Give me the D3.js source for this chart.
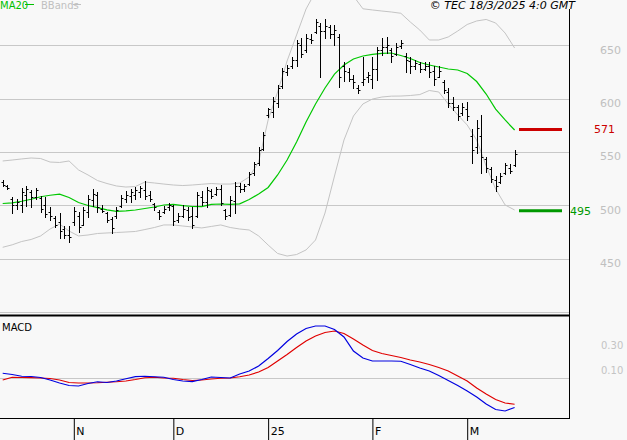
<!DOCTYPE html>
<html><head><meta charset="utf-8">
<script src="https://cdn.jsdelivr.net/npm/d3@7"></script>
<style>
html,body{margin:0;padding:0;background:#f8f8f8;}
svg{display:block;}
text{font-family:"DejaVu Sans",Verdana,sans-serif;}
</style></head>
<body>
<svg id="c" width="627" height="440"></svg>
<script>
// ---- DATA ----
const highs = [524,519,508,506,516,518,514,516,509,508,498,490,493,481,481,498,494,498,510,515,
512,500,494,489,498,510,513,515,517,518,523,513,502,496,499,502,500,493,500,498,
498,512,513,517,515,517,519,497,509,522,521,520,531,541,555,569,591,601,613,629,
631,639,655,657,660,660,674,671,674,669,669,660,634,629,622,613,639,625,639,648,
657,658,647,652,655,643,639,636,634,634,634,630,630,617,610,601,594,596,597,571,
580,585,545,536,527,530,540,539,552];
const lows = [518,515,493,497,494,499,498,506,494,489,486,480,469,469,466,482,475,482,489,499,
494,494,484,474,488,498,503,503,506,508,506,504,496,487,493,496,482,484,489,486,
479,489,500,498,507,510,500,487,490,493,512,513,519,528,538,552,583,583,592,610,
622,629,630,639,644,652,661,620,657,657,650,611,616,616,610,605,613,615,610,617,
641,643,634,641,647,625,624,628,625,627,620,613,620,605,592,589,580,585,580,540,
549,530,531,522,513,521,529,530,537];
const opens = [522,518,506,500,500,510,512,508,507,500,494,488,484,478,472,484,490,482,494,505,
510,497,493,487,490,499,506,509,510,512,514,510,501,494,494,498,499,486,490,496,
490,490,508,503,513,511,515,496,491,504,518,515,520,530,540,553,585,587,596,612,
625,630,636,650,645,656,662,668,663,667,660,658,630,625,618,610,615,620,618,628,
645,648,645,642,649,640,635,630,632,628,630,626,620,615,606,596,592,586,590,565,
555,565,543,534,524,522,530,535,538];
const closes = [519,516,500,503,512,515,508,514,497,492,490,482,476,472,470,495,480,496,506,511,
498,495,486,479,496,507,510,512,514,516,509,506,498,490,497,500,485,490,497,489,
482,510,503,514,509,515,502,490,505,518,515,518,529,539,552,566,590,598,610,626,
629,636,652,642,657,655,672,663,668,660,664,620,626,618,615,608,618,622,628,645,
648,650,640,648,652,636,630,633,628,630,625,618,626,608,596,592,584,592,584,552,
572,545,535,525,518,527,538,532,548];
// indicator samples every 2nd bar (index 0,2,...,108)
const ma20 = [501.7,502.3,503.8,505.7,508.0,509.4,510.4,507.3,502.6,499.8,497.9,495.8,494.4,494.7,495.6,497.0,498.4,500.3,500.8,499.7,
498.9,498.7,500.9,501.2,500.8,501.4,505.4,510.6,516.7,528.4,542.4,559.3,578.0,594.9,609.8,622.9,631.4,637.0,639.8,641.4,
642.3,642.6,640.3,637.5,633.7,631.4,629.5,627.6,626.7,623.4,615.9,604.2,590.0,579.9,570.5];
const bbUpper = [541.5,542.4,543.4,544.3,543.8,540.5,540.1,541.5,533.1,528.4,523.2,520.4,518.1,517.1,517.6,521.8,520.9,519.9,519.0,518.5,
519.0,519.7,520.4,519.9,519.9,520.9,526.5,540.5,579.9,606.1,635.1,659.5,683.8,700.0,710.0,712.0,706.0,696.0,684.0,682.9,
681.9,681.0,679.8,671.6,664.1,654.8,654.8,657.6,663.2,669.3,672.6,674.0,670.7,661.3,647.3];
const bbLower = [460.7,463.0,466.1,468.0,471.3,477.8,482.5,475.9,471.3,472.2,473.6,474.1,474.5,475.0,475.5,477.3,479.2,481.6,481.6,480.6,
479.7,478.8,480.2,481.6,479.2,477.8,476.9,471.3,462.8,454.9,452.5,453.9,458.2,467.5,492.8,527.4,561.1,583.6,594.9,599.5,
601.4,602.2,602.3,602.8,603.7,607.5,606.1,594.9,584.6,575.2,561.1,536.8,515.3,500.3,495.6];
const macdLine = [0.038,0.028,0.014,0.012,0.004,-0.016,-0.040,-0.060,-0.064,-0.044,-0.030,-0.036,-0.024,-0.006,0.011,0.014,0.010,0.006,-0.012,-0.024,
-0.029,-0.012,0.008,0.004,0.000,0.032,0.056,0.096,0.156,0.220,0.292,0.352,0.396,0.416,0.416,0.388,0.328,0.216,0.160,0.136,
0.136,0.136,0.134,0.108,0.080,0.056,0.020,-0.020,-0.060,-0.104,-0.152,-0.208,-0.252,-0.264,-0.236];
const signalLine = [-0.016,0.006,0.004,0.003,0.000,-0.004,-0.016,-0.036,-0.040,-0.040,-0.038,-0.034,-0.030,-0.024,-0.012,0.002,0.006,0.000,-0.002,-0.012,
-0.020,-0.016,-0.008,-0.002,0.000,0.010,0.024,0.048,0.084,0.136,0.188,0.244,0.296,0.336,0.364,0.376,0.356,0.312,0.264,0.220,
0.196,0.180,0.164,0.144,0.128,0.108,0.084,0.056,0.016,-0.024,-0.080,-0.128,-0.172,-0.200,-0.210];
const priceTicks = [400,450,500,550,600,650];
const priceLabels = [450,500,550,600,650];
const macdTicks = [0.10,0.30];
const dateTickIdx = [15,36,56,78,98];
const dateTickLabels = ["N","D","25","F","M"];
const lastMA = 571, lastLower = 495;

// ---- SCALES ----
const svg = d3.select("#c");
const W = 569;
const x = d3.scaleLinear().domain([0,108]).range([2.7,514.6]);
const y = d3.scaleLinear().domain([400,650]).range([312.1,45.1]);
const ym = d3.scaleLinear().domain([0,0.3]).range([378,340.5]);
const sampleIdx = d3.range(0,109,2);

// clip for main panel
svg.append("defs").append("clipPath").attr("id","mainclip")
  .append("rect").attr("x",0).attr("y",0).attr("width",W).attr("height",313);

// gridlines main
svg.append("g").selectAll("line").data(priceTicks).join("line")
  .attr("x1",0).attr("x2",W).attr("y1",d=>Math.round(y(d))+0.5).attr("y2",d=>Math.round(y(d))+0.5)
  .attr("stroke","#c8c8c8").attr("stroke-width",1);

// price axis labels (right)
const ax = d3.axisRight(y).tickValues(priceLabels).tickSize(0).tickPadding(0).tickFormat(d3.format("d"));
const gAx = svg.append("g").attr("transform","translate(600,4.5)").call(ax);
gAx.select(".domain").remove();
gAx.selectAll("text").attr("fill","#c0c0c0").attr("font-size",11).attr("font-family","DejaVu Sans, sans-serif");

const main = svg.append("g").attr("clip-path","url(#mainclip)");
// bands
const lineS = (arr, sc) => d3.line().x((d,i)=>x(sampleIdx[i])).y(d=>sc(d))(arr);
main.append("path").attr("d",lineS(bbUpper,y)).attr("fill","none").attr("stroke","#c4c4c4").attr("stroke-width",1);
main.append("path").attr("d",lineS(bbLower,y)).attr("fill","none").attr("stroke","#c4c4c4").attr("stroke-width",1);
main.append("path").attr("d",lineS(ma20,y)).attr("fill","none").attr("stroke","#00c800").attr("stroke-width",1.2);

// OHLC bars
const bars = main.append("g").attr("stroke","#000").attr("stroke-width",1);
highs.forEach((h,i)=>{
  const cx = Math.round(x(i))+0.5;
  bars.append("line").attr("x1",cx).attr("x2",cx).attr("y1",Math.round(y(h))).attr("y2",Math.round(y(lows[i]))+1);
  bars.append("line").attr("x1",cx-2).attr("x2",cx).attr("y1",Math.round(y(opens[i]))+0.5).attr("y2",Math.round(y(opens[i]))+0.5);
  bars.append("line").attr("x1",cx).attr("x2",cx+2).attr("y1",Math.round(y(closes[i]))+0.5).attr("y2",Math.round(y(closes[i]))+0.5);
});

// last value markers
svg.append("line").attr("x1",519).attr("x2",562).attr("y1",y(lastMA)).attr("y2",y(lastMA)).attr("stroke","#cc0000").attr("stroke-width",3);
svg.append("text").attr("x",594).attr("y",y(lastMA)+4).attr("fill","#cc0000").attr("font-size",11).text(lastMA);
svg.append("line").attr("x1",519).attr("x2",562).attr("y1",y(lastLower)).attr("y2",y(lastLower)).attr("stroke","#009900").attr("stroke-width",3);
svg.append("text").attr("x",570).attr("y",y(lastLower)+4).attr("fill","#009900").attr("font-size",11).text(lastLower);

// legend
svg.append("text").attr("x",0).attr("y",9).attr("fill","#00c000").attr("font-size",10).text("MA20");
svg.append("line").attr("x1",25).attr("x2",34).attr("y1",4.5).attr("y2",4.5).attr("stroke","#00c000");
svg.append("text").attr("x",41).attr("y",9).attr("fill","#c0c0c0").attr("font-size",10).text("BBands");
svg.append("line").attr("x1",73).attr("x2",81).attr("y1",4.5).attr("y2",4.5).attr("stroke","#c0c0c0");
svg.append("text").attr("x",575).attr("y",9).attr("text-anchor","end").attr("font-style","italic").attr("font-size",11).attr("fill","#000").text("© TEC 18/3/2025 4:0 GMT");

// panel separators
svg.append("line").attr("x1",0).attr("x2",W).attr("y1",315.5).attr("y2",315.5).attr("stroke","#000").attr("stroke-width",2);
svg.append("line").attr("x1",0).attr("x2",W+1).attr("y1",418.5).attr("y2",418.5).attr("stroke","#000").attr("stroke-width",1);
svg.append("line").attr("x1",W+0.5).attr("x2",W+0.5).attr("y1",9).attr("y2",419).attr("stroke","#000").attr("stroke-width",1);

// MACD panel
svg.append("line").attr("x1",0).attr("x2",W).attr("y1",Math.round(ym(0))+0.5).attr("y2",Math.round(ym(0))+0.5).attr("stroke","#c8c8c8");
const axm = d3.axisRight(ym).tickValues(macdTicks).tickSize(0).tickPadding(0).tickFormat(d3.format(".2f"));
const gAxm = svg.append("g").attr("transform","translate(601,4.5)").call(axm);
gAxm.select(".domain").remove();
gAxm.selectAll("text").attr("fill","#c4c4c4").attr("font-size",10).attr("font-family","DejaVu Sans, sans-serif");
svg.append("text").attr("x",2).attr("y",331).attr("font-size",10).attr("fill","#000").text("MACD");
svg.append("path").attr("d",lineS(signalLine,ym)).attr("fill","none").attr("stroke","#e00000").attr("stroke-width",1.2);
svg.append("path").attr("d",lineS(macdLine,ym)).attr("fill","none").attr("stroke","#0000e0").attr("stroke-width",1.2);

// date axis
const axd = d3.axisBottom(x).tickValues(dateTickIdx).tickSize(21).tickPadding(0).tickFormat((d,i)=>dateTickLabels[i]);
const gAxd = svg.append("g").attr("transform","translate(0,419)").call(axd);
gAxd.select(".domain").remove();
gAxd.selectAll("line").attr("stroke","#000");
gAxd.selectAll("text").attr("text-anchor","start").attr("dx",2).attr("y",8).attr("dy","0.71em").attr("fill","#000").attr("font-size",11).attr("font-family","DejaVu Sans, sans-serif");
</script>
</body></html>
